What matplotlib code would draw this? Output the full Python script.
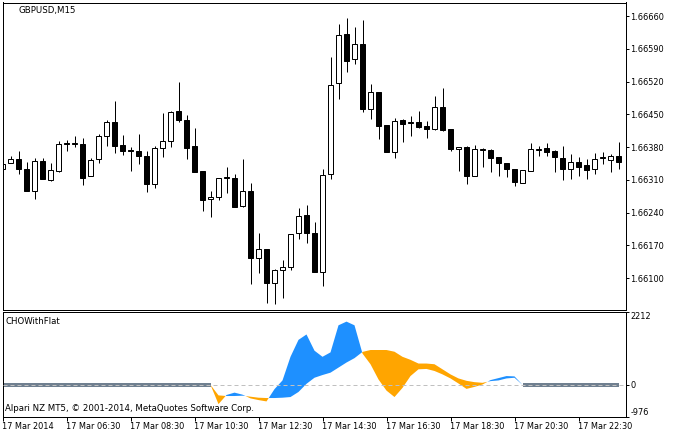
import numpy as np
import matplotlib
matplotlib.use("Agg")
import matplotlib.pyplot as plt

# GBPUSD M15, 17 Mar 2014, bars from 04:30 to 23:45
opens = [1.66333, 1.66346, 1.66354, 1.66333, 1.66286, 1.66350, 1.66310, 1.66329, 1.66389, 1.66386,
         1.66386, 1.66318, 1.66354, 1.66404, 1.66433, 1.66384, 1.66374, 1.66371, 1.66361, 1.66301,
         1.66378, 1.66393, 1.66457, 1.66438, 1.66382, 1.66329, 1.66269, 1.66273, 1.66314, 1.66314,
         1.66254, 1.66286, 1.66143, 1.66162, 1.66089, 1.66117, 1.66124, 1.66196, 1.66235, 1.66196,
         1.66113, 1.66322, 1.66517, 1.66622, 1.66568, 1.66600, 1.66461, 1.66498, 1.66427, 1.66369,
         1.66438, 1.66432, 1.66433, 1.66425, 1.66419, 1.66466, 1.66419, 1.66376, 1.66380, 1.66318,
         1.66374, 1.66374, 1.66359, 1.66346, 1.66333, 1.66303, 1.66329, 1.66374, 1.66378, 1.66371,
         1.66357, 1.66333, 1.66348, 1.66342, 1.66333, 1.66357, 1.66352, 1.66361]
highs = [1.66348, 1.66361, 1.66371, 1.66348, 1.66357, 1.66357, 1.66346, 1.66393, 1.66395, 1.66404,
         1.66399, 1.66357, 1.66408, 1.66438, 1.66478, 1.66406, 1.66380, 1.66408, 1.66371, 1.66382,
         1.66453, 1.66457, 1.66519, 1.66448, 1.66421, 1.66329, 1.66286, 1.66314, 1.66337, 1.66322,
         1.66354, 1.66303, 1.66196, 1.66162, 1.66119, 1.66139, 1.66194, 1.66250, 1.66256, 1.66220,
         1.66333, 1.66572, 1.66643, 1.66656, 1.66636, 1.66651, 1.66515, 1.66498, 1.66427, 1.66442,
         1.66440, 1.66446, 1.66457, 1.66436, 1.66489, 1.66506, 1.66419, 1.66380, 1.66382, 1.66384,
         1.66378, 1.66376, 1.66359, 1.66346, 1.66333, 1.66331, 1.66389, 1.66382, 1.66389, 1.66374,
         1.66382, 1.66365, 1.66359, 1.66354, 1.66367, 1.66369, 1.66365, 1.66391]
lows = [1.66331, 1.66346, 1.66322, 1.66286, 1.66269, 1.66312, 1.66307, 1.66327, 1.66371, 1.66380,
        1.66299, 1.66318, 1.66346, 1.66382, 1.66367, 1.66363, 1.66329, 1.66344, 1.66284, 1.66292,
        1.66359, 1.66380, 1.66433, 1.66354, 1.66327, 1.66243, 1.66230, 1.66267, 1.66282, 1.66252,
        1.66252, 1.66087, 1.66111, 1.66047, 1.66045, 1.66057, 1.66117, 1.66183, 1.66175, 1.66113,
        1.66083, 1.66312, 1.66483, 1.66540, 1.66557, 1.66455, 1.66440, 1.66397, 1.66369, 1.66357,
        1.66391, 1.66404, 1.66421, 1.66399, 1.66416, 1.66414, 1.66371, 1.66329, 1.66301, 1.66318,
        1.66337, 1.66327, 1.66318, 1.66316, 1.66297, 1.66303, 1.66329, 1.66361, 1.66361, 1.66327,
        1.66310, 1.66312, 1.66318, 1.66312, 1.66322, 1.66344, 1.66327, 1.66333]
closes = [1.66343, 1.66354, 1.66333, 1.66286, 1.66350, 1.66312, 1.66331, 1.66386, 1.66386, 1.66388,
          1.66314, 1.66352, 1.66404, 1.66433, 1.66382, 1.66371, 1.66372, 1.66361, 1.66301, 1.66378,
          1.66393, 1.66455, 1.66438, 1.66378, 1.66327, 1.66267, 1.66273, 1.66314, 1.66315, 1.66252,
          1.66286, 1.66143, 1.66162, 1.66089, 1.66117, 1.66124, 1.66194, 1.66233, 1.66196, 1.66113,
          1.66320, 1.66513, 1.66619, 1.66564, 1.66600, 1.66461, 1.66498, 1.66425, 1.66369, 1.66436,
          1.66429, 1.66433, 1.66423, 1.66419, 1.66466, 1.66416, 1.66376, 1.66380, 1.66318, 1.66376,
          1.66375, 1.66357, 1.66346, 1.66333, 1.66305, 1.66331, 1.66376, 1.66375, 1.66369, 1.66359,
          1.66333, 1.66348, 1.66337, 1.66331, 1.66354, 1.66358, 1.66361, 1.66348]

# CHOWithFlat indicator: oscillator, its signal line and the flat flag
cho = [0] * 27 + [-585, -308, -236, -298, -411, -462, -503, -130, 134, 852,
                  1366, 1530, 1037, 852, 986, 1808, 1920, 1808, 950, 626,
                  164, -175, -370, -92, 267, 472, 483, 421, 318, 195,
                  41, -123, -62, 10, 144, 205, 267, 257] + [0] * 13
sig = [0] * 27 + [-320, -339, -339, -329, -359, -390, -400, -400, -390, -370,
                  -216, 31, 216, 298, 370, 524, 678, 811, 1000, 1058,
                  1058, 1058, 1006, 852, 760, 647, 647, 626, 472, 318,
                  195, 123, 82, 62, 113, 134, 195, 216] + [0] * 13
flat = [1] * 27 + [0] * 38 + [1] * 13

price_ticks = [1.66100, 1.66170, 1.66240, 1.66310, 1.66380, 1.66450, 1.66520, 1.66590, 1.66660]
osc_ticks = [-976, 0, 2212]
time_labels = ["17 Mar 2014", "17 Mar 06:30", "17 Mar 08:30", "17 Mar 10:30", "17 Mar 12:30",
               "17 Mar 14:30", "17 Mar 16:30", "17 Mar 18:30", "17 Mar 20:30", "17 Mar 22:30"]

plt.rcParams['font.family'] = ['DejaVu Sans']
fs = 5.9      # tick labels
fs_txt = 6.2  # captions inside the panels
px = 0.72     # one pixel in points

o = np.array(opens); h = np.array(highs); l = np.array(lows); c = np.array(closes)
x = np.arange(len(o))

fig = plt.figure(figsize=(6.78, 4.37), dpi=100)
W, H = 678.0, 437.0
ax = fig.add_axes([2.5 / W, (H - 310) / H, 623.5 / W, 307.5 / H])
ax2 = fig.add_axes([2.5 / W, (H - 417) / H, 623.5 / W, 105 / H])

# --- candles ---
up = c >= o
ax.vlines(x, l, h, color='black', linewidth=px, zorder=1)
body = np.maximum(np.abs(c - o), 0.000012)
ax.bar(x, body, bottom=np.minimum(o, c), width=0.6,
       color=np.where(up, 'white', 'black'), edgecolor='black', linewidth=px, zorder=2)

ax.set_xlim(0, 623.5 / 8)
ax.set_ylim(1.660317, 1.666889)
ax.set_xticks([])
ax.yaxis.tick_right()
ax.set_yticks(price_ticks)
ax.set_yticklabels(["%.5f" % p for p in price_ticks])
ax.tick_params(axis='y', direction='out', length=2.2, width=px, pad=1, labelsize=fs)
for s in ax.spines.values():
    s.set_linewidth(px)
ax.text(16 / 623.5, 1 - 7.5 / 307.5, "GBPUSD,M15", transform=ax.transAxes,
        fontsize=fs_txt, va='center', ha='left')

# --- oscillator ---
cho_a = np.array(cho, float); sig_a = np.array(sig, float)
fl = np.array(flat, bool)
ax2.fill_between(x, cho_a, sig_a, where=cho_a >= sig_a, interpolate=True,
                 color='#1E90FF', linewidth=0)
ax2.fill_between(x, cho_a, sig_a, where=cho_a <= sig_a, interpolate=True,
                 color='#FFA500', linewidth=0)
ax2.fill_between(x, -65, 65, where=fl, color='#708090', linewidth=0)
ax2.axhline(0, color='#C0C0C0', linewidth=px, linestyle=(0, (4, 3)), zorder=5)

ax2.set_xlim(0, 623.5 / 8)
ax2.set_ylim(-976, 2212)
ax2.yaxis.tick_right()
ax2.set_yticks(osc_ticks)
ax2.set_yticklabels([str(t) for t in osc_ticks])
ax2.tick_params(axis='y', direction='out', length=2.2, width=px, pad=1, labelsize=fs)
ylabs = ax2.get_yticklabels()
ylabs[0].set_va('bottom')
ylabs[2].set_va('top')
ax2.set_xticks(range(0, len(x), 8))
ax2.set_xticklabels(time_labels)
ax2.tick_params(axis='x', direction='out', length=2.9, width=px, pad=1, labelsize=fs)
for t in ax2.get_xticklabels():
    t.set_ha('left')
for s in ax2.spines.values():
    s.set_linewidth(px)
ax2.text(3.5 / 623.5, 1 - 9.5 / 105, "CHOWithFlat", transform=ax2.transAxes,
         fontsize=fs_txt, va='center', ha='left')
ax2.text(2.5 / 623.5, 8.5 / 105, "Alpari NZ MT5, \u00a9 2001-2014, MetaQuotes Software Corp.",
         transform=ax2.transAxes, fontsize=fs_txt, va='center', ha='left')

fig.savefig("out.png", dpi=100)
